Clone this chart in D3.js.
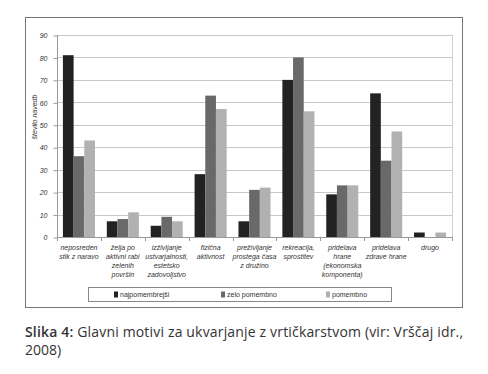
<!DOCTYPE html>
<html>
<head>
<meta charset="utf-8">
<title></title>
<style type="text/css">
body { margin: 0; background: #fff; }
svg text { font-family: "Liberation Sans", Arial, sans-serif; }
.tick text, .cat { font-style: italic; fill: #333; }
.caption { font-family: "Open Sans", sans-serif; fill: #333; }
</style>
</head>
<body>
<svg class="chart" width="488" height="374"></svg>
<script src="https://d3js.org/d3.v7.min.js"></script>
<script type="text/javascript">
var categories = [
    ["neposreden", "stik z naravo"],
    ["želja po", "aktivni rabi", "zelenih", "površin"],
    ["izživljanje", "ustvarjalnosti,", "estetsko", "zadovoljstvo"],
    ["fizična", "aktivnost"],
    ["preživljanje", "prostega časa", "z družino"],
    ["rekreacija,", "sprostitev"],
    ["pridelava", "hrane", "(ekonomska", "komponenta)"],
    ["pridelava", "zdrave hrane"],
    ["drugo"]
];
var seriesNames = ["najpomembrejši", "zelo pomembno", "pomembno"];
var najpomembnejsi = [81, 7, 5, 28, 7, 70, 19, 64, 2];
var zeloPomembno = [36, 8, 9, 63, 21, 80, 23, 34, 0];
var pomembno = [43, 11, 7, 57, 22, 56, 23, 47, 2];
var yTicks = [0, 10, 20, 30, 40, 50, 60, 70, 80, 90];
var colors = ["#222222", "#696969", "#b1b1b1"];

var series = [najpomembnejsi, zeloPomembno, pomembno];
var svg = d3.select("svg");

// outer frame
svg.append("rect")
    .attr("x", 25.5).attr("y", 17.5)
    .attr("width", 437).attr("height", 290)
    .attr("fill", "none").attr("stroke", "#777").attr("stroke-width", 1);

var x = d3.scaleBand().domain(d3.range(categories.length)).range([57, 452]).paddingInner(0.27).paddingOuter(0.135);
var xs = d3.scaleBand().domain(d3.range(3)).range([0, x.bandwidth()]);
var y = d3.scaleLinear().domain([0, 90]).range([237, 35]);

// grid
svg.append("g").selectAll("line").data(yTicks.slice(1)).join("line")
    .attr("x1", 57).attr("x2", 452)
    .attr("y1", function(d) { return Math.round(y(d)) + 0.5; })
    .attr("y2", function(d) { return Math.round(y(d)) + 0.5; })
    .attr("stroke", "#c8c8c8");
svg.append("line").attr("x1", 452.5).attr("x2", 452.5).attr("y1", y(90)).attr("y2", y(0)).attr("stroke", "#d0d0d0");

// y axis
var yAxis = svg.append("g").attr("transform", "translate(57.5,0.5)")
    .call(d3.axisLeft(y).tickValues(yTicks).tickSize(4).tickPadding(6));
yAxis.selectAll("path, line").attr("stroke", "#999");
yAxis.select(".domain").attr("d", "M0," + y(90) + "V" + y(0));
yAxis.selectAll("text").attr("font-size", 7).attr("font-family", "Liberation Sans, sans-serif");

svg.append("text")
    .attr("transform", "translate(37,117) rotate(-90)")
    .attr("text-anchor", "middle").attr("font-size", 7).attr("font-style", "italic").attr("fill", "#333")
    .text("število navedb");

// bars
svg.append("g").selectAll("g").data(series).join("g")
    .attr("fill", function(d, i) { return colors[i]; })
    .each(function(vals, si) {
        d3.select(this).selectAll("rect").data(vals).join("rect")
            .attr("x", function(d, i) { return x(i) + xs(si); })
            .attr("width", xs.bandwidth())
            .attr("y", function(d) { return y(d); })
            .attr("height", function(d) { return y(0) - y(d); });
    });

// x axis
var step = x.step();
svg.append("line").attr("x1", 57).attr("x2", 452).attr("y1", 237.5).attr("y2", 237.5).attr("stroke", "#999");
svg.append("g").selectAll("line").data(d3.range(categories.length + 1)).join("line")
    .attr("x1", function(i) { return Math.round(57 + i * step) + 0.5; })
    .attr("x2", function(i) { return Math.round(57 + i * step) + 0.5; })
    .attr("y1", 237).attr("y2", 241).attr("stroke", "#999");

var labels = svg.append("g").selectAll("text").data(categories).join("text")
    .attr("class", "cat")
    .attr("text-anchor", "middle").attr("font-size", 7)
    .attr("x", function(d, i) { return x(i) + x.bandwidth() / 2; })
    .attr("y", 250);
labels.selectAll("tspan").data(function(d) { return d; }).join("tspan")
    .attr("x", function() { return d3.select(this.parentNode).attr("x"); })
    .attr("dy", function(d, i) { return i ? 9 : 0; })
    .text(function(d) { return d; });

// legend
svg.append("rect").attr("x", 88.5).attr("y", 287.5).attr("width", 303).attr("height", 14)
    .attr("fill", "#fff").attr("stroke", "#888");
var legX = [114, 221, 326];
var leg = svg.append("g").selectAll("g").data(seriesNames).join("g")
    .attr("transform", function(d, i) { return "translate(" + legX[i] + ",294.5)"; });
leg.append("rect").attr("x", 0).attr("y", -3).attr("width", 4).attr("height", 6)
    .attr("fill", function(d, i) { return colors[i]; });
leg.append("text").attr("x", 6).attr("dy", "0.35em").attr("font-size", 7).attr("fill", "#333")
    .text(function(d) { return d; });

// caption
var cap = svg.append("text").attr("class", "caption").attr("x", 25).attr("y", 337).attr("font-size", 14)
    .attr("textLength", 438).attr("lengthAdjust", "spacing");
cap.append("tspan").attr("font-weight", 600).text("Slika 4: ");
cap.append("tspan").text("Glavni motivi za ukvarjanje z vrtičkarstvom (vir: Vrščaj idr.,");
svg.append("text").attr("class", "caption").attr("x", 25).attr("y", 355).attr("font-size", 14).text("2008)");
</script>
</body>
</html>
